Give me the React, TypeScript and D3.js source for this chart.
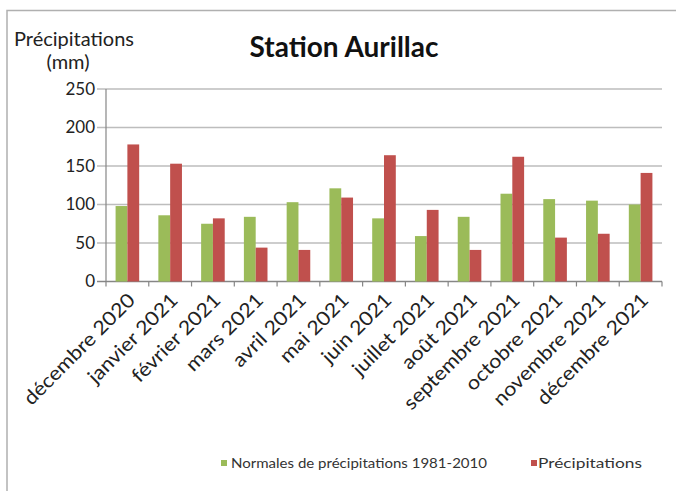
import React from "react";
import * as d3 from "d3";

const months = [
  "décembre 2020", "janvier 2021", "février 2021", "mars 2021", "avril 2021",
  "mai 2021", "juin 2021", "juillet 2021", "août 2021", "septembre 2021",
  "octobre 2021", "novembre 2021", "décembre 2021",
];
const normales = [98, 86, 75, 84, 103, 121, 82, 59, 84, 114, 107, 105, 100];
const precipitations = [178, 153, 82, 44, 41, 109, 164, 93, 41, 162, 57, 62, 141];
const yTicks = [0, 50, 100, 150, 200, 250];
const seriesNames = ["Normales de précipitations 1981-2010", "Précipitations"];
const seriesColors = ["#9bbb59", "#c0504d"];

const W = 676, H = 491;
const plot = { left: 106, right: 662, top: 89, bottom: 281.5 };
const FONT = "Lato, 'Open Sans', sans-serif";

export default function App() {
  const x = d3.scaleBand<string>().domain(months).range([plot.left, plot.right]).paddingInner(0).paddingOuter(0);
  const y = d3.scaleLinear().domain([0, 250]).range([plot.bottom, plot.top]);
  const bw = x.bandwidth();
  const barW = 11.8;
  const sub = d3.scaleBand<number>().domain([0, 1]).range([0, barW * 2]);
  const series = [normales, precipitations];

  return (
    <svg width={W} height={H} style={{ position: "absolute", left: 0, top: 0, background: "#fff" }} fontFamily={FONT}>
      <rect x={0} y={0} width={W} height={H} fill="#fff" />
      <rect x={7} y={10.5} width={W + 20} height={H + 20} fill="none" stroke="#b0b0b0" strokeWidth={1.5} />
      <text x={344} y={57} textAnchor="middle" fontSize={28} fontWeight="bold" fill="#111">Station Aurillac</text>
      <text x={74} y={46} textAnchor="middle" fontSize={20} fill="#222">Précipitations</text>
      <text x={68} y={69} textAnchor="middle" fontSize={20} fill="#222">(mm)</text>
      {yTicks.map((t) => (
        <g key={t}>
          <line x1={97} x2={plot.right} y1={y(t)} y2={y(t)} stroke={t === 0 ? "#868686" : "#bdbdbd"} strokeWidth={1.5} />
          <text x={95} y={y(t)} dy="0.35em" textAnchor="end" fontSize={17} fill="#222">{t}</text>
        </g>
      ))}
      <line x1={plot.left} x2={plot.left} y1={plot.top} y2={plot.bottom} stroke="#868686" strokeWidth={1.2} />
      {months.map((m, i) => {
        const x0 = (x(m) as number) + (bw - barW * 2) / 2;
        return (
          <g key={m}>
            {series.map((s, k) => (
              <rect key={k} x={x0 + (sub(k) as number)} y={y(s[i])} width={barW} height={y(0) - y(s[i])} fill={seriesColors[k]} />
            ))}
          </g>
        );
      })}
      {d3.range(months.length + 1).map((i) => {
        const xx = plot.left + i * bw;
        return <line key={i} x1={xx} x2={xx} y1={plot.bottom} y2={plot.bottom + 5} stroke="#868686" strokeWidth={1.2} />;
      })}
      {months.map((m) => {
        const cx = (x(m) as number) + bw / 2 + 4;
        const cy = plot.bottom + 15;
        return (
          <text key={m} transform={`translate(${cx},${cy}) rotate(-45) scale(1.1,1)`} textAnchor="end" dy="0.35em" fontSize={19.5} fill="#222">{m}</text>
        );
      })}
      <g>
        <rect x={221} y={460} width={6} height={6} fill={seriesColors[0]} />
        <text x={231} y={463} dy="0.35em" fontSize={14} textLength={256} lengthAdjust="spacingAndGlyphs" fill="#333">{seriesNames[0]}</text>
        <rect x={531} y={460} width={6} height={6} fill={seriesColors[1]} />
        <text x={538} y={463} dy="0.35em" fontSize={14} textLength={104} lengthAdjust="spacingAndGlyphs" fill="#333">{seriesNames[1]}</text>
      </g>
    </svg>
  );
}
